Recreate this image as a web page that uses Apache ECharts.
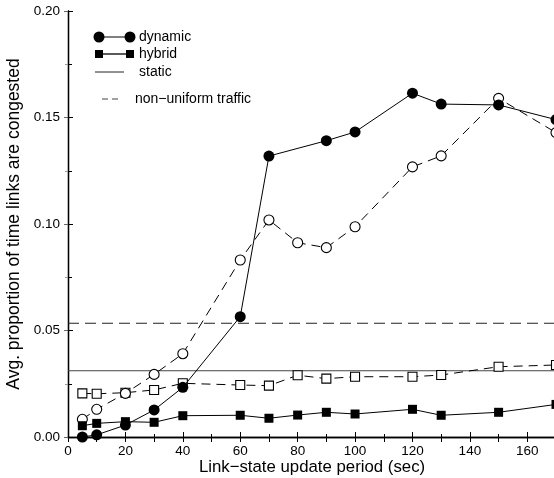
<!DOCTYPE html>
<html><head><meta charset="utf-8">
<script src="https://cdn.jsdelivr.net/npm/echarts@6/dist/echarts.min.js"></script>
<style>html,body{margin:0;padding:0;background:#fff}#c{width:554px;height:478px}</style>
</head><body><div id="c"></div>
<script>
const periods = [5,10,20,30,40,60,70,80,90,100,120,130,150,170];
const dynamicX = [5,10,20,30,40,60,70,90,100,120,130,150,170];
const dynamicVals = [0.000,0.001,0.0056,0.0127,0.0233,0.0565,0.1319,0.1391,0.1432,0.1614,0.1563,0.1559,0.149];
const dynamicNU = [0.0083,0.013,0.0205,0.0294,0.0391,0.0831,0.1019,0.0912,0.0889,0.0987,0.1268,0.132,0.159,0.1429];
const hybridVals = [0.0053,0.0064,0.0072,0.0069,0.010,0.0102,0.0088,0.0103,0.0116,0.0108,0.013,0.0102,0.0116,0.0153];
const hybridNU = [0.0205,0.0203,0.0208,0.0221,0.0252,0.0244,0.0241,0.029,0.0274,0.0283,0.0283,0.0291,0.033,0.0338];
const staticVal = 0.0311;
const staticNU = 0.0534;
const xTicks = [0,20,40,60,80,100,120,140,160];
const yTicks = [0.00,0.05,0.10,0.15,0.20];

const pair = (xs, ys) => xs.map((x,i)=>[x, ys[i]]);
const FONT = '"Liberation Sans", Arial, sans-serif';
const chart = echarts.init(document.getElementById('c'), null, {renderer:'canvas'});

const axisLineStyle = {color:'#000', width:1.3};
chart.setOption({
  animation:false,
  textStyle:{fontFamily:FONT},
  grid:{left:68, top:11, width:488, height:426, containLabel:false, outerBoundsMode:'none'},
  xAxis:[{
    type:'value', min:0, max:170, interval:20, position:'bottom',
    axisLine:{show:true, lineStyle:axisLineStyle},
    axisTick:{show:true, inside:true, length:5, lineStyle:{color:'#000'}},
    minorTick:{show:true, splitNumber:2, length:3, lineStyle:{color:'#000'}},
    splitLine:{show:false},
    axisLabel:{color:'#000', fontSize:13.5, fontFamily:FONT, margin:7, showMaxLabel:false,
      formatter:v=> xTicks.includes(v) ? String(v) : ''},
    name:'Link\u2212state update period (sec)', nameLocation:'middle', nameGap:22, nameMoveOverlap:false,
    nameTextStyle:{color:'#000', fontSize:16.8, fontFamily:FONT}
  },{
    type:'value', min:0, max:170, interval:20, position:'top',
    axisLine:{show:true, lineStyle:axisLineStyle},
    axisTick:{show:true, inside:true, length:5, lineStyle:{color:'#000'}},
    minorTick:{show:true, splitNumber:2, length:5, lineStyle:{color:'#000'}},
    splitLine:{show:false}, axisLabel:{show:false}
  }],
  yAxis:[{
    type:'value', min:0, max:0.2, interval:0.05, position:'left',
    axisLine:{show:true, lineStyle:axisLineStyle},
    axisTick:{show:true, inside:true, length:5, lineStyle:{color:'#000'}},
    minorTick:{show:true, splitNumber:2, length:4, lineStyle:{color:'#000'}},
    splitLine:{show:false},
    axisLabel:{color:'#000', fontSize:13.5, fontFamily:FONT, margin:8,
      formatter:v=>{const t=yTicks.find(k=>Math.abs(k-v)<1e-9); return t===undefined?'':t.toFixed(2);}},
    name:'Avg. proportion of time links are congested', nameLocation:'middle', nameGap:45, nameMoveOverlap:false,
    nameTextStyle:{color:'#000', fontSize:17.5, fontFamily:FONT}
  },{
    type:'value', min:0, max:0.2, interval:0.05, position:'right',
    axisLine:{show:true, lineStyle:axisLineStyle},
    axisTick:{show:true, inside:true, length:4, lineStyle:{color:'#666'}},
    minorTick:{show:true, splitNumber:2, length:3, lineStyle:{color:'#999'}},
    splitLine:{show:false}, axisLabel:{show:false}
  }],
  series:[
    {name:'static', type:'line', data:[[0,staticVal],[170,staticVal]], showSymbol:false, symbol:'none',
      lineStyle:{color:'#444', width:1.2}, z:1},
    {name:'static non-uniform', type:'line', data:[[0,staticNU],[170,staticNU]], symbol:'none',
      lineStyle:{color:'#222', width:1.2, type:[11,6]}, z:1},
    {name:'hybrid non-uniform', type:'line', data:pair(periods, hybridNU), symbol:'rect', symbolSize:9,
      itemStyle:{color:'#fff', borderColor:'#000', borderWidth:1.1},
      lineStyle:{color:'#000', width:1, type:[9,6]}, z:2},
    {name:'dynamic non-uniform', type:'line', data:pair(periods, dynamicNU), symbol:'circle', symbolSize:10,
      itemStyle:{color:'#fff', borderColor:'#000', borderWidth:1.1},
      lineStyle:{color:'#000', width:1, type:[9,6]}, z:2},
    {name:'hybrid', type:'line', data:pair(periods, hybridVals), symbol:'rect', symbolSize:9,
      itemStyle:{color:'#000'}, lineStyle:{color:'#000', width:1}, z:3},
    {name:'dynamic', type:'line', data:pair(dynamicX, dynamicVals), symbol:'circle', symbolSize:11,
      itemStyle:{color:'#000'}, lineStyle:{color:'#000', width:1}, z:4}
  ],
  graphic:[
    {type:'line', shape:{x1:99,y1:37,x2:130,y2:37}, style:{stroke:'#000', lineWidth:1}},
    {type:'circle', shape:{cx:99,cy:37,r:5.5}, style:{fill:'#000'}},
    {type:'circle', shape:{cx:130,cy:37,r:5.5}, style:{fill:'#000'}},
    {type:'text', x:139, y:37, style:{text:'dynamic', fill:'#000', font:'14px '+FONT, verticalAlign:'middle'}},
    {type:'line', shape:{x1:99,y1:54,x2:130,y2:54}, style:{stroke:'#000', lineWidth:1.3}},
    {type:'rect', shape:{x:95,y:50,width:8,height:8}, style:{fill:'#000'}},
    {type:'rect', shape:{x:126,y:50,width:8,height:8}, style:{fill:'#000'}},
    {type:'text', x:139, y:54, style:{text:'hybrid', fill:'#000', font:'14px '+FONT, verticalAlign:'middle'}},
    {type:'line', shape:{x1:95,y1:72,x2:124,y2:72}, style:{stroke:'#222', lineWidth:1}},
    {type:'text', x:139, y:72, style:{text:'static', fill:'#000', font:'14px '+FONT, verticalAlign:'middle'}},
    {type:'line', shape:{x1:102,y1:99,x2:119,y2:99}, style:{stroke:'#444', lineWidth:1, lineDash:[6,4]}},
    {type:'text', x:135, y:99, style:{text:'non\u2212uniform traffic', fill:'#000', font:'14px '+FONT, verticalAlign:'middle'}}
  ]
});
</script></body></html>
